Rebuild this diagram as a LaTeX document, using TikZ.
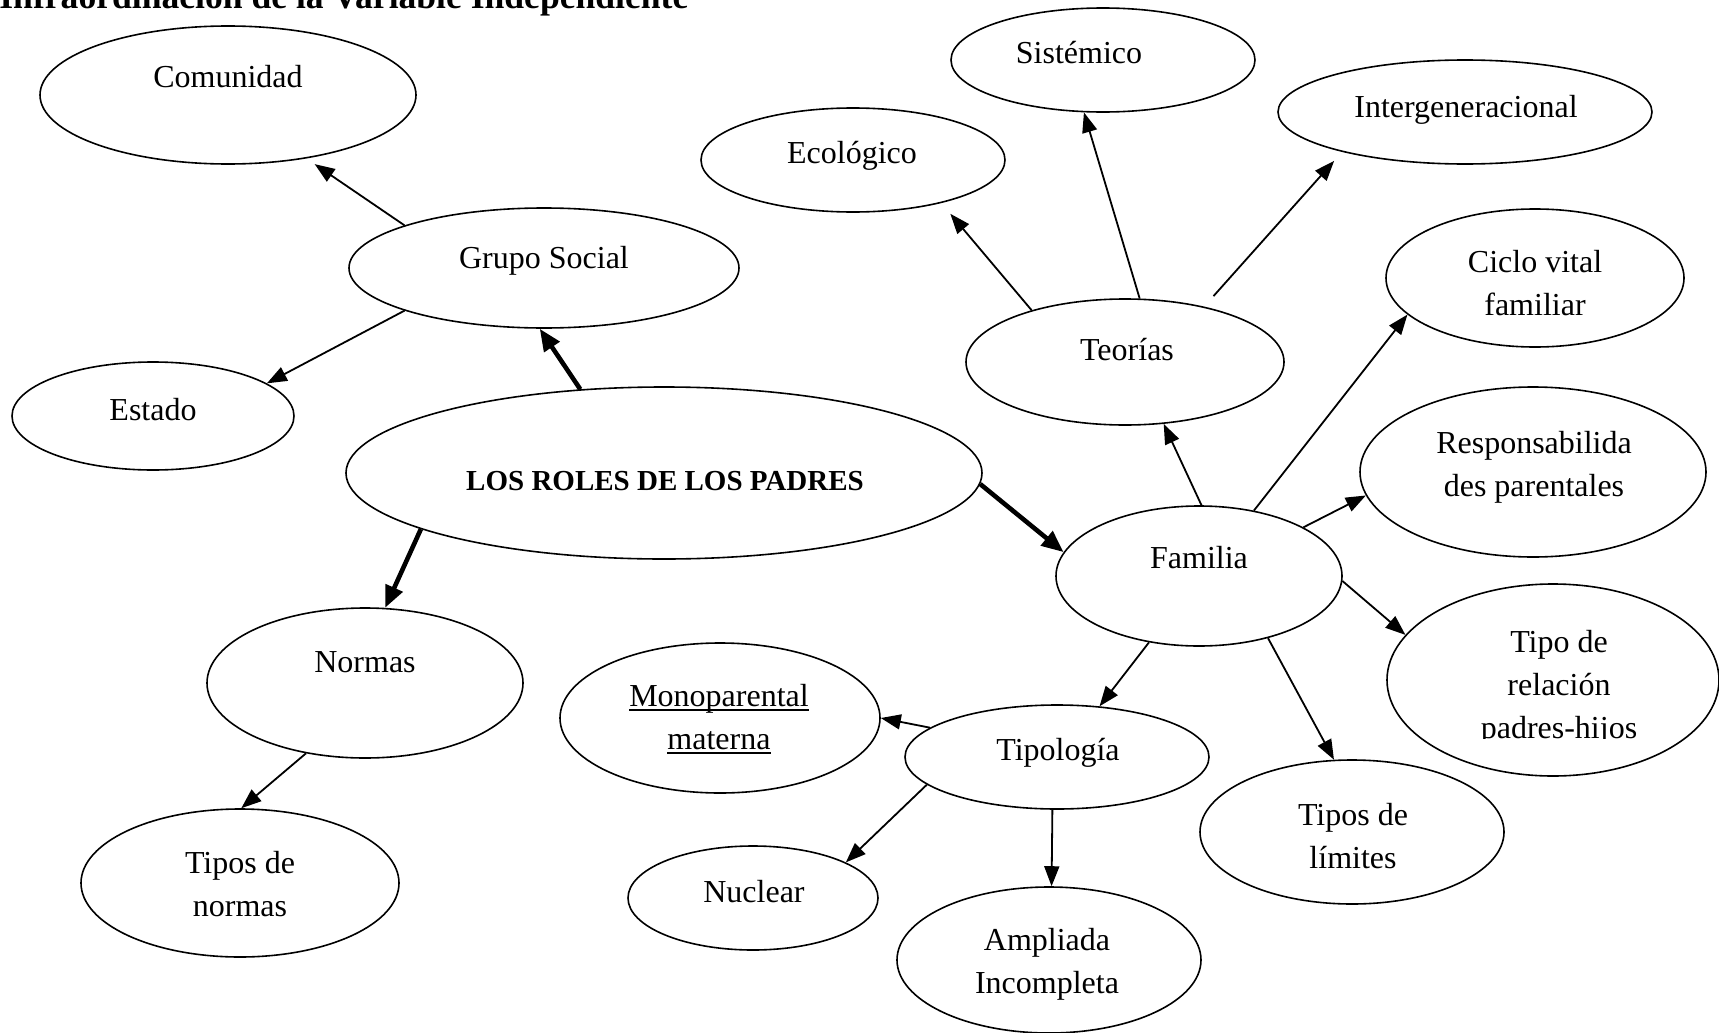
\documentclass[tikz,border=0pt]{standalone}
\usepackage{fontspec}
\setmainfont{Liberation Serif}
\usetikzlibrary{shapes.geometric,arrows.meta}

\newsavebox\subbox
\newcommand{\subraya}[1]{\sbox\subbox{#1}\rlap{\rule[-2pt]{\wd\subbox}{0.9pt}}\usebox\subbox}

\tikzset{
    bubble/.style={draw, ellipse, line width=0.8pt, inner sep=0pt},
    txt/.style={font=\fontsize{16}{21.5}\selectfont, align=center, inner sep=0pt},
    flecha/.style={-{Triangle[length=10pt,width=7.5pt]}, line width=0.9pt},
    gruesa/.style={-{Triangle[length=11pt,width=9pt]}, line width=2.3pt},
}

\begin{document}
\begin{tikzpicture}[x=0.5pt, y=-0.5pt]
    \useasboundingbox (0,0) rectangle (1719,1033);
    \clip (0,0) rectangle (1719,1033);

    % titulo cortado arriba
    \node[anchor=base west, inner sep=0pt, font=\bfseries\fontsize{17.8}{20}\selectfont] (titulo) at (-1,9) {Infraordinación de la Variable Independiente};

    % elipses
    \node[bubble, minimum width=188pt, minimum height=69pt] (comunidad) at (228,95) {};
    \node[bubble, minimum width=195pt, minimum height=60pt] (grupo) at (544,268) {};
    \node[bubble, minimum width=141pt, minimum height=54pt] (estado) at (153,416) {};
    \node[bubble, minimum width=318pt, minimum height=86pt] (roles) at (664,473) {};
    \node[bubble, minimum width=158pt, minimum height=75pt] (normas) at (365,683) {};
    \node[bubble, minimum width=159pt, minimum height=74pt] (tiposnormas) at (240,883) {};
    \node[bubble, minimum width=152pt, minimum height=52pt] (ecologico) at (853,160) {};
    \node[bubble, minimum width=152pt, minimum height=52pt] (sistemico) at (1103,60) {};
    \node[bubble, minimum width=187pt, minimum height=52pt] (intergen) at (1465,112) {};
    \node[bubble, minimum width=159pt, minimum height=63pt] (teorias) at (1125,362) {};
    \node[bubble, minimum width=149pt, minimum height=69pt] (ciclo) at (1535,278) {};
    \node[bubble, minimum width=173pt, minimum height=85pt] (respons) at (1533,472) {};
    \node[bubble, minimum width=143pt, minimum height=70pt] (familia) at (1199,576) {};
    \node[bubble, minimum width=166pt, minimum height=96pt] (relacion) at (1553,680) {};
    \node[bubble, minimum width=152pt, minimum height=72pt] (limites) at (1352,832) {};
    \node[bubble, minimum width=152pt, minimum height=52pt] (tipologia) at (1057,757) {};
    \node[bubble, minimum width=160pt, minimum height=75pt] (mono) at (720,718) {};
    \node[bubble, minimum width=125pt, minimum height=52pt] (nuclear) at (753,898) {};
    \node[bubble, minimum width=152pt, minimum height=73pt] (ampliada) at (1049,960) {};

    % textos
    \node[txt, anchor=base] (comunidad-txt) at (228,87) {Comunidad};
    \node[txt, anchor=base] (grupo-txt) at (544,268) {Grupo Social};
    \node[txt, anchor=base] (estado-txt) at (153,420) {Estado};
    \node[txt, anchor=base, font=\bfseries\fontsize{14.5}{17}\selectfont] (roles-txt) at (665,490) {LOS ROLES DE LOS PADRES};
    \node[txt, anchor=base] (normas-txt) at (365,672) {Normas};
    \node[txt] (tiposnormas-txt) at (240,884) {Tipos de\\normas};
    \node[txt, anchor=base] (ecologico-txt) at (852,163) {Ecológico};
    \node[txt, anchor=base] (sistemico-txt) at (1079,63) {Sistémico};
    \node[txt, anchor=base] (intergen-txt) at (1466,117) {Intergeneracional};
    \node[txt, anchor=base] (teorias-txt) at (1127,360) {Teorías};
    \node[txt] (ciclo-txt) at (1535,283) {Ciclo vital\\familiar};
    \node[txt] (respons-txt) at (1534,467) {Responsabilida\\des parentales};
    \node[txt, anchor=base] (familia-txt) at (1199,568) {Familia};
    \begin{scope}
        \clip (1390,600) rectangle (1719,738);
        \node[txt] (relacion-txt) at (1559,688) {Tipo de\\relación\\padres-hijos};
    \end{scope}
    \node[txt] (limites-txt) at (1353,836) {Tipos de\\límites};
    \node[txt, anchor=base] (tipologia-txt) at (1058,760) {Tipología};
    \node[txt] (mono-txt) at (719,719) {\subraya{Monoparental}\\\subraya{materna}};
    \node[txt, anchor=base] (nuclear-txt) at (754,902) {Nuclear};
    \node[txt] (ampliada-txt) at (1047,964) {Ampliada\\Incompleta};

    % flechas
    \draw[gruesa] (roles.135) -- (grupo.-94);
    \draw[gruesa] (roles.193) -- (normas.75);
    \draw[gruesa] (roles.-2) -- (familia.170);
    \draw[flecha, shorten >=5pt] (grupo.163) -- (comunidad.-39);
    \draw[flecha] (grupo.197) -- (estado.16);
    \draw[flecha] (normas.230) -- (tiposnormas.89);
    \draw[flecha, shorten >=7pt] (teorias.151) -- (ecologico.-26);
    \draw[flecha] (teorias.77) -- (sistemico.-110);
    \draw[flecha, shorten <=7pt, shorten >=6pt] (teorias.35) -- (intergen.-162);
    \draw[flecha] (familia.88) -- (teorias.-58);
    \draw[flecha] (familia.50) -- (ciclo.-164);
    \draw[flecha] (familia.25) -- (respons.-172);
    \draw[flecha] (familia.-2) -- (relacion.163);
    \draw[flecha] (familia.-42) -- (limites.104);
    \draw[flecha] (familia.-127) -- (tipologia.50);
    \draw[flecha] (tipologia.167) -- (mono.0);
    \draw[flecha] (tipologia.192) -- (nuclear.21);
    \draw[flecha] (tipologia.-95) -- (ampliada.88);
\end{tikzpicture}
\end{document}
